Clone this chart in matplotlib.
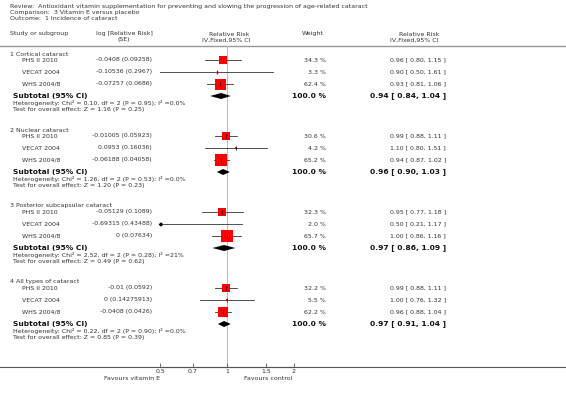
import numpy as np
import matplotlib
matplotlib.use("Agg")
import matplotlib.pyplot as plt

# data
groups = ["1 Cortical cataract", "2 Nuclear cataract",
          "3 Posterior subcapsular cataract", "4 All types of cataract"]
studies = ["PHS II 2010", "VECAT 2004", "WHS 2004/8"]

log_se = [
    ["-0.0408 (0.09258)", "-0.10536 (0.2967)", "-0.07257 (0.0686)"],
    ["-0.01005 (0.05923)", "0.0953 (0.16036)", "-0.06188 (0.04058)"],
    ["-0.05129 (0.1089)", "-0.69315 (0.43488)", "0 (0.07634)"],
    ["-0.01 (0.0592)", "0 (0.14275913)", "-0.0408 (0.0426)"],
]
weights = [[34.3, 3.3, 62.4], [30.6, 4.2, 65.2], [32.3, 2.0, 65.7], [32.2, 5.5, 62.2]]
rr = [[0.96, 0.90, 0.93], [0.99, 1.10, 0.94], [0.95, 0.50, 1.00], [0.99, 1.00, 0.96]]
lo = [[0.80, 0.50, 0.81], [0.88, 0.80, 0.87], [0.77, 0.21, 0.86], [0.88, 0.76, 0.88]]
hi = [[1.15, 1.61, 1.06], [1.11, 1.51, 1.02], [1.18, 1.17, 1.16], [1.11, 1.32, 1.04]]

sub_rr = [0.94, 0.96, 0.97, 0.97]
sub_lo = [0.84, 0.90, 0.86, 0.91]
sub_hi = [1.04, 1.03, 1.09, 1.04]
heterogeneity = [
    "Heterogeneity: Chi\u00b2 = 0.10, df = 2 (P = 0.95); I\u00b2 =0.0%",
    "Heterogeneity: Chi\u00b2 = 1.26, df = 2 (P = 0.53); I\u00b2 =0.0%",
    "Heterogeneity: Chi\u00b2 = 2.52, df = 2 (P = 0.28); I\u00b2 =21%",
    "Heterogeneity: Chi\u00b2 = 0.22, df = 2 (P = 0.90); I\u00b2 =0.0%",
]
overall = [
    "Test for overall effect: Z = 1.16 (P = 0.25)",
    "Test for overall effect: Z = 1.20 (P = 0.23)",
    "Test for overall effect: Z = 0.49 (P = 0.62)",
    "Test for overall effect: Z = 0.85 (P = 0.39)",
]
ticks = [0.5, 0.7, 1, 1.5, 2]
tick_labels = ["0.5", "0.7", "1", "1.5", "2"]

W, H = 566, 397
fs = 4.5
fsb = 5.4
col = "#333333"

fig = plt.figure(figsize=(W / 100, H / 100), dpi=100)
txt = fig.add_axes([0, 0, 1, 1])
txt.set_xlim(0, W)
txt.set_ylim(H, 0)
txt.axis("off")

AXIS_Y = 367
fx0, fx1 = 160, 294
ax = fig.add_axes([fx0 / W, (H - AXIS_Y) / H, (fx1 - fx0) / W, AXIS_Y / H])
ax.set_xscale("log")
ax.set_xlim(0.5, 2)
ax.set_ylim(AXIS_Y, 0)
ax.patch.set_visible(False)
for s in ["left", "right", "top"]:
    ax.spines[s].set_visible(False)
ax.spines["bottom"].set_color("#555555")
ax.spines["bottom"].set_linewidth(0.8)
ax.set_yticks([])
ax.set_xticks(ticks)
ax.set_xticklabels(tick_labels)
ax.minorticks_off()
ax.tick_params(axis="x", direction="in", length=3, width=0.6, color="#555555",
               labelsize=fs, labelcolor=col, pad=1.5)

# titles
txt.text(10, 6.5, "Review:  Antioxidant vitamin supplementation for preventing and slowing the progression of age-related cataract",
         fontsize=fs, color=col, va="center")
txt.text(10, 12.5, "Comparison:  3 Vitamin E versus placebo", fontsize=fs, color=col, va="center")
txt.text(10, 18.5, "Outcome:  1 Incidence of cataract", fontsize=fs, color=col, va="center")

hy1, hy2, line_y = 34, 40, 46
txt.text(10, hy1, "Study or subgroup", fontsize=fs, color=col, va="center")
txt.text(124, hy1, "log [Relative Risk]", fontsize=fs, color=col, va="center", ha="center")
txt.text(124, hy2, "(SE)", fontsize=fs, color=col, va="center", ha="center")
txt.text(229, hy1, "Relative Risk", fontsize=fs, color=col, va="center", ha="center")
txt.text(226, hy2, "IV,Fixed,95% CI", fontsize=fs, color=col, va="center", ha="center")
txt.text(313, hy1, "Weight", fontsize=fs, color=col, va="center", ha="center")
txt.text(419, hy1, "Relative Risk", fontsize=fs, color=col, va="center", ha="center")
txt.text(414, hy2, "IV,Fixed,95% CI", fontsize=fs, color=col, va="center", ha="center")
txt.plot([0, W], [line_y, line_y], color="#999999", lw=1.0)
txt.plot([0, W], [AXIS_Y, AXIS_Y], color="#555555", lw=0.8)

# reference line at RR = 1
ax.plot([1, 1], [line_y, AXIS_Y], color="#bbbbbb", lw=0.7, zorder=1)

g0, gstep = 54, 76
study_off = [6, 18, 30]
for g, name in enumerate(groups):
    gy = g0 + g * gstep
    txt.text(10, gy, name, fontsize=fs, color=col, va="center")
    for i, st in enumerate(studies):
        y = gy + study_off[i]
        txt.text(22, y, st, fontsize=fs, color=col, va="center")
        txt.text(152, y, log_se[g][i], fontsize=fs, color=col, va="center", ha="right")
        txt.text(326, y, f"{weights[g][i]:.1f} %", fontsize=fs, color=col, va="center", ha="right")
        txt.text(446, y, f"{rr[g][i]:.2f} [ {lo[g][i]:.2f}, {hi[g][i]:.2f} ]",
                 fontsize=fs, color=col, va="center", ha="right")
        ax.plot([lo[g][i], hi[g][i]], [y, y], color="#333333", lw=0.6, zorder=2)
        side = 11 * (weights[g][i] / 62.4) ** 0.6 * 0.72
        ax.plot(rr[g][i], y, marker="s", ms=side, color="#ff0000", mec="#ff0000",
                mew=0, zorder=3, clip_on=False)
        ax.plot(rr[g][i], y, marker="|", ms=2.2, color="black", mew=0.5, zorder=4, clip_on=False)
        if lo[g][i] < 0.5:
            ax.plot(0.5, y, marker="<", ms=1.8, color="black", zorder=4, clip_on=False)
    sy = gy + 42
    txt.text(13, sy, "Subtotal (95% CI)", fontsize=fsb, fontweight="bold", color="#111111", va="center")
    txt.text(326, sy, "100.0 %", fontsize=fsb, fontweight="bold", color="#111111", va="center", ha="right")
    txt.text(446, sy, f"{sub_rr[g]:.2f} [ {sub_lo[g]:.2f}, {sub_hi[g]:.2f} ]",
             fontsize=fsb, fontweight="bold", color="#111111", va="center", ha="right")
    ax.fill([sub_lo[g], sub_rr[g], sub_hi[g], sub_rr[g]], [sy, sy - 3, sy, sy + 3],
            color="black", lw=0, zorder=3)
    txt.text(13, gy + 49, heterogeneity[g], fontsize=fs, color=col, va="center")
    txt.text(13, gy + 55, overall[g], fontsize=fs, color=col, va="center")

txt.text(132, 379, "Favours vitamin E", fontsize=fs, color=col, va="center", ha="center")
txt.text(268, 379, "Favours control", fontsize=fs, color=col, va="center", ha="center")

fig.savefig("out.png", dpi=100)
